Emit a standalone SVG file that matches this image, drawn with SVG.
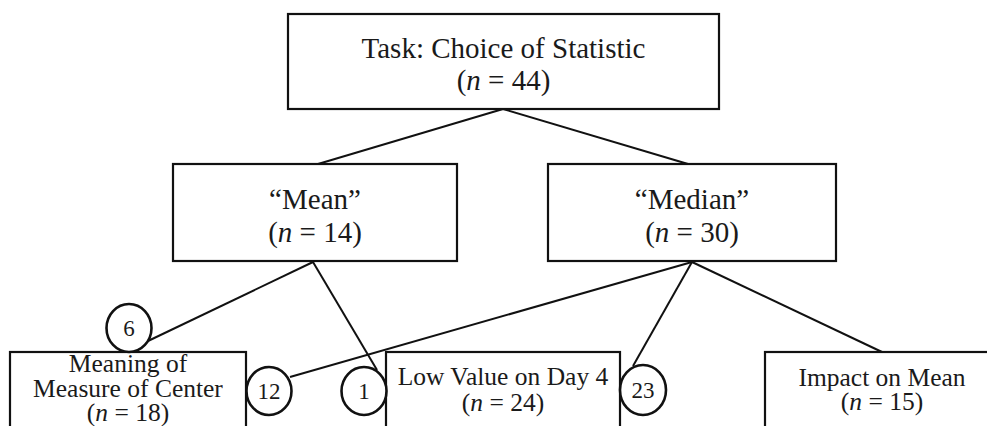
<svg xmlns="http://www.w3.org/2000/svg" width="987" height="426" viewBox="0 0 987 426">
<style>
.box{fill:#fff;stroke:#111;stroke-width:2.2}
.circ{fill:#fff;stroke:#111;stroke-width:2.6}
.con{stroke:#111;stroke-width:2;fill:none}
text{font-family:"Liberation Serif","Times New Roman",serif;fill:#1a1a1a;text-anchor:middle}
.big{font-size:29px}
.sm{font-size:25.5px}
.num{font-size:23px}
.i{font-style:italic}
</style>
<rect width="987" height="426" fill="#fff"/>
<g id="connectors">
<line class="con" x1="503" y1="109" x2="318" y2="164"/>
<line class="con" x1="503" y1="109" x2="688" y2="164"/>
<line class="con" x1="313" y1="262" x2="148" y2="341"/>
<line class="con" x1="313" y1="262" x2="377" y2="370"/>
<line class="con" x1="692" y1="262" x2="290" y2="377"/>
<line class="con" x1="692" y1="262" x2="633" y2="366"/>
<line class="con" x1="692" y1="262" x2="882" y2="352"/>
</g>
<g id="task">
<rect class="box" x="288" y="14" width="431" height="95"/>
<text class="big" x="503.5" y="58">Task: Choice of Statistic</text>
<text class="big" x="503.5" y="90">(<tspan class="i">n</tspan> = 44)</text>
</g>
<g id="mean">
<rect class="box" x="173" y="164" width="284" height="97"/>
<text class="big" x="315" y="209">“Mean”</text>
<text class="big" x="315" y="242">(<tspan class="i">n</tspan> = 14)</text>
</g>
<g id="median">
<rect class="box" x="548" y="164" width="288" height="97"/>
<text class="big" x="692" y="209">“Median”</text>
<text class="big" x="692" y="242">(<tspan class="i">n</tspan> = 30)</text>
</g>
<g id="meaning">
<rect class="box" x="10" y="352" width="236" height="90"/>
<text class="sm" x="128" y="372">Meaning of</text>
<text class="sm" x="128" y="397">Measure of Center</text>
<text class="sm" x="128" y="421">(<tspan class="i">n</tspan> = 18)</text>
</g>
<g id="lowvalue">
<rect class="box" x="386" y="352" width="234" height="90"/>
<text class="sm" x="503" y="385">Low Value on Day 4</text>
<text class="sm" x="503" y="411">(<tspan class="i">n</tspan> = 24)</text>
</g>
<g id="impact">
<rect class="box" x="765" y="352" width="240" height="90"/>
<text class="sm" x="882" y="386">Impact on Mean</text>
<text class="sm" x="882" y="410">(<tspan class="i">n</tspan> = 15)</text>
</g>
<g id="c6">
<ellipse class="circ" cx="129" cy="328" rx="22.5" ry="24"/>
<text class="num" x="129" y="336">6</text>
</g>
<g id="c12">
<ellipse class="circ" cx="269" cy="391" rx="22.5" ry="24"/>
<text class="num" x="269" y="399">12</text>
</g>
<g id="c1">
<ellipse class="circ" cx="364" cy="391" rx="22.5" ry="24"/>
<text class="num" x="364" y="399">1</text>
</g>
<g id="c23">
<ellipse class="circ" cx="643" cy="390" rx="23" ry="25"/>
<text class="num" x="643" y="398">23</text>
</g>
</svg>
